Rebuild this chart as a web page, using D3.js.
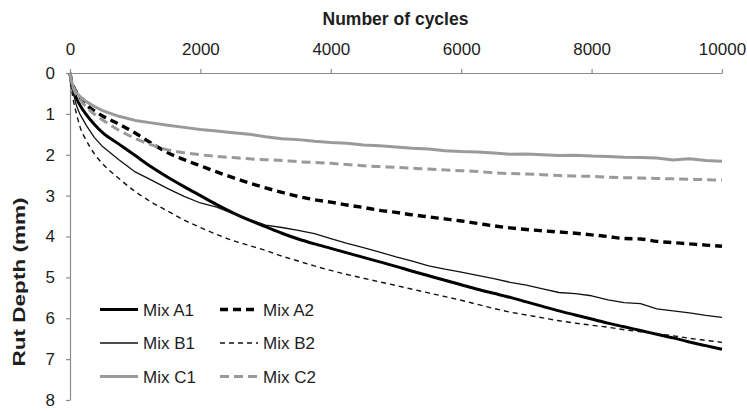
<!DOCTYPE html>
<html>
<head>
<meta charset="utf-8">
<script src="https://cdn.jsdelivr.net/npm/d3@7"></script>
<style>
  html, body { margin: 0; padding: 0; background: #fff; }
  svg { display: block; font-family: "Liberation Sans", Arial, sans-serif; }
</style>
</head>
<body>
<svg id="chart" width="747" height="412"></svg>
<script>
// Load cycles at which rut depth was logged
const cycles = [0, 25, 50, 100, 150, 250, 375, 500, 750, 1000, 1250, 1500, 1750, 2000, 2250,
  2500, 2750, 3000, 3250, 3500, 3750, 4000, 4250, 4500, 4750, 5000, 5250, 5500, 5750, 6000,
  6250, 6500, 6750, 7000, 7250, 7500, 7750, 8000, 8250, 8500, 8750, 9000, 9250, 9500, 9750, 10000];

// Rut depth (mm) per mix
const mixA1 = [0, 0.28, 0.42, 0.62, 0.78, 1.02, 1.26, 1.46, 1.74, 2.02, 2.3, 2.55, 2.78, 3.0, 3.22,
  3.42, 3.6, 3.76, 3.92, 4.06, 4.18, 4.29, 4.4, 4.51, 4.62, 4.73, 4.85, 4.96, 5.07, 5.18,
  5.29, 5.39, 5.49, 5.6, 5.71, 5.82, 5.92, 6.02, 6.12, 6.21, 6.3, 6.39, 6.48, 6.58, 6.67, 6.76];
const mixA2 = [0, 0.2, 0.32, 0.47, 0.58, 0.78, 0.93, 1.05, 1.25, 1.47, 1.72, 1.95, 2.12, 2.27, 2.42,
  2.56, 2.69, 2.81, 2.92, 3.02, 3.1, 3.16, 3.23, 3.29, 3.36, 3.41, 3.47, 3.52, 3.57, 3.62,
  3.68, 3.74, 3.79, 3.83, 3.86, 3.89, 3.92, 3.96, 4.0, 4.05, 4.06, 4.12, 4.15, 4.18, 4.21, 4.24];
const mixB1 = [0, 0.3, 0.5, 0.8, 1.0, 1.28, 1.58, 1.8, 2.12, 2.42, 2.62, 2.83, 3.02, 3.18, 3.28,
  3.44, 3.58, 3.72, 3.78, 3.85, 3.93, 4.05, 4.17, 4.27, 4.38, 4.5, 4.6, 4.72, 4.8, 4.87,
  4.95, 5.03, 5.12, 5.19, 5.28, 5.37, 5.4, 5.45, 5.55, 5.62, 5.64, 5.77, 5.82, 5.87, 5.93, 5.98];
const mixB2 = [0, 0.4, 0.65, 1.0, 1.3, 1.65, 1.98, 2.22, 2.58, 2.9, 3.16, 3.38, 3.6, 3.78, 3.95,
  4.1, 4.22, 4.34, 4.48, 4.6, 4.72, 4.83, 4.93, 5.02, 5.11, 5.2, 5.29, 5.38, 5.47, 5.56,
  5.66, 5.76, 5.85, 5.92, 5.99, 6.06, 6.12, 6.17, 6.22, 6.28, 6.33, 6.38, 6.43, 6.49, 6.54, 6.59];
const mixC1 = [0, 0.22, 0.34, 0.48, 0.57, 0.7, 0.82, 0.92, 1.06, 1.16, 1.22, 1.28, 1.33, 1.38, 1.42,
  1.46, 1.5, 1.56, 1.61, 1.63, 1.67, 1.7, 1.72, 1.76, 1.78, 1.81, 1.84, 1.86, 1.9, 1.92,
  1.93, 1.96, 1.99, 1.98, 2.0, 2.02, 2.01, 2.03, 2.04, 2.06, 2.07, 2.08, 2.13, 2.1, 2.14, 2.16];
const mixC2 = [0, 0.24, 0.37, 0.54, 0.65, 0.83, 1.01, 1.15, 1.4, 1.6, 1.76, 1.88, 1.95, 2.0, 2.04,
  2.07, 2.1, 2.12, 2.14, 2.17, 2.19, 2.21, 2.24, 2.27, 2.29, 2.31, 2.33, 2.35, 2.37, 2.39,
  2.41, 2.44, 2.46, 2.47, 2.49, 2.51, 2.52, 2.53, 2.55, 2.56, 2.57, 2.58, 2.59, 2.6, 2.61, 2.62];

const seriesNames = ["Mix A1", "Mix A2", "Mix B1", "Mix B2", "Mix C1", "Mix C2"];
const seriesValues = [mixA1, mixA2, mixB1, mixB2, mixC1, mixC2];

const xTicks = [0, 2000, 4000, 6000, 8000, 10000];
const yTicks = [0, 1, 2, 3, 4, 5, 6, 7, 8];

// Line appearance for each mix
const lineStyle = {
  "Mix A1": { color: "#000", width: 3, dash: null, curve: d3.curveMonotoneX },
  "Mix A2": { color: "#000", width: 3.4, dash: "8,5", curve: d3.curveMonotoneX },
  "Mix B1": { color: "#111", width: 1.3, dash: null, curve: d3.curveLinear },
  "Mix B2": { color: "#111", width: 1.4, dash: "5,4", curve: d3.curveMonotoneX },
  "Mix C1": { color: "#9a9a9a", width: 3, dash: null, curve: d3.curveLinear },
  "Mix C2": { color: "#9a9a9a", width: 3, dash: "9,5", curve: d3.curveMonotoneX }
};

const svg = d3.select("#chart");
const plotLeft = 70, plotRight = 722, plotTop = 73, plotBottom = 400;

const x = d3.scaleLinear().domain([0, 10000]).range([plotLeft, plotRight]);
const y = d3.scaleLinear().domain([0, 8]).range([plotTop, plotBottom]);

const axisColor = "#8c8c8c";
const textColor = "#1e1e1e";

// Top axis: number of cycles
const gx = svg.append("g")
  .attr("transform", `translate(0,${plotTop})`)
  .call(d3.axisTop(x).tickValues(xTicks).tickFormat(d3.format("d"))
    .tickSize(4).tickSizeOuter(0).tickPadding(14));

// Left axis: rut depth, increasing downward
const gy = svg.append("g")
  .attr("transform", `translate(${plotLeft},0)`)
  .call(d3.axisLeft(y).tickValues(yTicks).tickFormat(d3.format("d"))
    .tickSize(4).tickSizeOuter(0).tickPadding(11));

[gx, gy].forEach(g => {
  g.select(".domain").attr("stroke", axisColor).attr("stroke-width", 1.2);
  g.selectAll(".tick line").attr("stroke", axisColor).attr("stroke-width", 1.2);
  g.selectAll(".tick text")
    .attr("fill", textColor)
    .style("font-size", "17px")
    .style("font-family", "'Liberation Sans', Arial, sans-serif");
});

// Axis titles
svg.append("text")
  .attr("x", 395.5).attr("y", 25)
  .attr("text-anchor", "middle")
  .attr("fill", textColor)
  .style("font-size", "17.5px").style("font-weight", "bold")
  .text("Number of cycles");

svg.append("text")
  .attr("transform", "translate(25,282) rotate(-90)")
  .attr("text-anchor", "middle")
  .attr("fill", textColor)
  .attr("textLength", 169).attr("lengthAdjust", "spacingAndGlyphs")
  .style("font-size", "16px").style("font-weight", "bold")
  .text("Rut Depth (mm)");

// Rut depth curves
const plot = svg.append("g");
seriesNames.forEach((name, i) => {
  const st = lineStyle[name];
  const pts = cycles.map((c, k) => [c, seriesValues[i][k]]);
  const line = d3.line().x(d => x(d[0])).y(d => y(d[1])).curve(st.curve);
  plot.append("path")
    .datum(pts)
    .attr("d", line)
    .attr("fill", "none")
    .attr("stroke", st.color)
    .attr("stroke-width", st.width)
    .attr("stroke-dasharray", st.dash)
    .attr("stroke-linejoin", "round");
});

// Legend: two columns, three rows
const legend = svg.append("g");
const legendOrder = [["Mix A1", 0, 0], ["Mix A2", 1, 0], ["Mix B1", 0, 1], ["Mix B2", 1, 1], ["Mix C1", 0, 2], ["Mix C2", 1, 2]];
legendOrder.forEach(([name, col, row]) => {
  const st = lineStyle[name];
  const lx = 100 + col * 120;
  const ly = 309.5 + row * 33.5;
  legend.append("line")
    .attr("x1", lx).attr("x2", lx + 38)
    .attr("y1", ly).attr("y2", ly)
    .attr("stroke", st.color)
    .attr("stroke-width", st.width)
    .attr("stroke-dasharray", st.dash);
  legend.append("text")
    .attr("x", lx + 43).attr("y", ly + 6)
    .attr("fill", textColor)
    .style("font-size", "17px")
    .text(name);
});
</script>
</body>
</html>
